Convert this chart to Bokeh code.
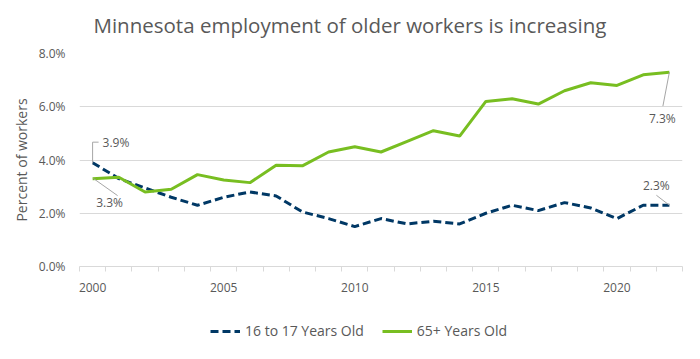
from bokeh.plotting import figure
from bokeh.layouts import column
from bokeh.models import (Range1d, FixedTicker, PrintfTickFormatter, Legend, LegendItem,
                          Label, ColumnDataSource)
from bokeh.embed import file_html
from bokeh.resources import INLINE

# ---- data ----
years = list(range(2000, 2023))
teen = [3.9, 3.3, 2.95, 2.6, 2.3, 2.6, 2.8, 2.65, 2.05, 1.8, 1.5, 1.8, 1.6, 1.7, 1.6,
        2.0, 2.3, 2.1, 2.4, 2.2, 1.8, 2.3, 2.3]
older = [3.3, 3.35, 2.8, 2.9, 3.45, 3.25, 3.15, 3.8, 3.78, 4.3, 4.5, 4.3, 4.7, 5.1, 4.9,
         6.2, 6.3, 6.1, 6.6, 6.9, 6.8, 7.2, 7.3]
series_names = ["16 to 17 Years Old", "65+ Years Old"]
y_ticks = [0, 2, 4, 6, 8]
x_label_years = [2000, 2005, 2010, 2015, 2020]
title_text = "Minnesota employment of older workers is increasing"
y_title = "Percent of workers"

# ---- style ----
BLUE = "#003865"
GREEN = "#78BE21"
TEXT = "#595959"
GRID = "#d9d9d9"
LEADER = "#a6a6a6"
FONT = "Open Sans"

W, HT, H, HL = 700, 43, 257, 59
ML, MR, MT, MB = 79, 18, 10, 34
x0, x1 = years[0] - 0.5, years[-1] + 0.5
y0, y1 = y_ticks[0], y_ticks[-1]

# ---- title strip ----
tf = figure(width=W, height=HT, output_backend="svg", toolbar_location=None,
            x_axis_type=None, y_axis_type=None, x_range=Range1d(0, 1), y_range=Range1d(0, 1),
            min_border=0)
tf.outline_line_color = None
tf.grid.grid_line_color = None
tf.add_layout(Label(x=14, y=19, x_units="screen", y_units="screen", text=title_text,
                    text_font=FONT, text_font_size="20.5px", text_color=TEXT,
                    text_align="left", text_baseline="alphabetic"))

# ---- main chart ----
p = figure(width=W, height=H, output_backend="svg", toolbar_location=None,
           x_range=Range1d(x0, x1), y_range=Range1d(y0, y1),
           min_border_left=ML, min_border_right=MR, min_border_top=MT, min_border_bottom=MB)
p.outline_line_color = None
p.background_fill_color = "white"
p.border_fill_color = "white"

# px per data unit
fw = W - ML - MR
fh = H - MT - MB
sx = fw / (x1 - x0)
sy = fh / (y1 - y0)

# axes
xa = p.xaxis[0]
xa.ticker = FixedTicker(ticks=x_label_years, minor_ticks=[y - 0.5 for y in years] + [years[-1] + 0.5])
xa.axis_line_color = GRID
xa.major_tick_line_color = None
xa.major_tick_out = 0
xa.major_tick_in = 0
xa.minor_tick_line_color = GRID
xa.minor_tick_out = 5
xa.minor_tick_in = 0
xa.major_label_standoff = 11
xa.major_label_text_font = FONT
xa.major_label_text_font_size = "12px"
xa.major_label_text_color = TEXT

ya = p.yaxis[0]
ya.ticker = FixedTicker(ticks=y_ticks)
ya.formatter = PrintfTickFormatter(format="%.1f%%")
ya.axis_line_color = None
ya.major_tick_line_color = None
ya.minor_tick_line_color = None
ya.major_tick_out = 0
ya.major_label_standoff = 14
ya.major_label_text_font = FONT
ya.major_label_text_font_size = "12px"
ya.major_label_text_color = TEXT
ya.axis_label = y_title
ya.axis_label_text_font = FONT
ya.axis_label_text_font_size = "14px"
ya.axis_label_text_font_style = "normal"
ya.axis_label_text_color = TEXT
ya.axis_label_standoff = 5

p.xgrid.grid_line_color = None
p.ygrid.grid_line_color = GRID
p.ygrid.grid_line_width = 1

src = ColumnDataSource(dict(year=years, teen=teen, older=older))
p.line("year", "teen", source=src, line_color=BLUE, line_width=3, line_dash="8 4")
p.line("year", "older", source=src, line_color=GREEN, line_width=3)

# ---- data labels with leader lines (offsets in px) ----
def lab(x, y, text, dx, dy, align, leader):
    p.add_layout(Label(x=x, y=y, text=text, x_offset=dx, y_offset=dy,
                       text_align=align, text_baseline="middle", text_font=FONT,
                       text_font_size="12px", text_color=TEXT))
    xs = [x + ox / sx for ox, oy in leader]
    ys = [y + oy / sy for ox, oy in leader]
    p.line(xs, ys, line_color=LEADER, line_width=1)

lab(years[0], teen[0], f"{teen[0]:.1f}%", 10, 20, "left", [(0, -1), (0, 20.5), (6, 20.5)])
lab(years[0], older[0], f"{older[0]:.1f}%", 17, -24, "center", [(1, 0), (25, -17)])
lab(years[-1], older[-1], f"{older[-1]:.1f}%", -7, -46, "center", [(0, 0), (-6.5, -34)])
lab(years[-1], teen[-1], f"{teen[-1]:.1f}%", -13, 20, "center", [(0, 0), (-13, 10)])

# ---- legend strip (same series, drawn outside this strip's view; only the key shows) ----
lf = figure(width=W, height=HL, output_backend="svg", toolbar_location=None,
            x_axis_type=None, y_axis_type=None, x_range=Range1d(0, 1), y_range=Range1d(0, 1),
            min_border=0)
lf.outline_line_color = None
lf.grid.grid_line_color = None
l1 = lf.line("year", "teen", source=src, line_color=BLUE, line_width=3, line_dash="8 4")
l2 = lf.line("year", "older", source=src, line_color=GREEN, line_width=3)
legend = Legend(items=[LegendItem(label=series_names[0], renderers=[l1]),
                       LegendItem(label=series_names[1], renderers=[l2])],
                orientation="horizontal", location=(131, 19),
                glyph_width=30, glyph_height=14, label_standoff=5, spacing=18,
                padding=0, margin=0, border_line_color=None, background_fill_alpha=0,
                label_text_font=FONT, label_text_font_size="14px", label_text_color=TEXT,
                label_height=14)
lf.add_layout(legend)

open("out.html", "w").write(file_html(column(tf, p, lf, spacing=0), INLINE))
